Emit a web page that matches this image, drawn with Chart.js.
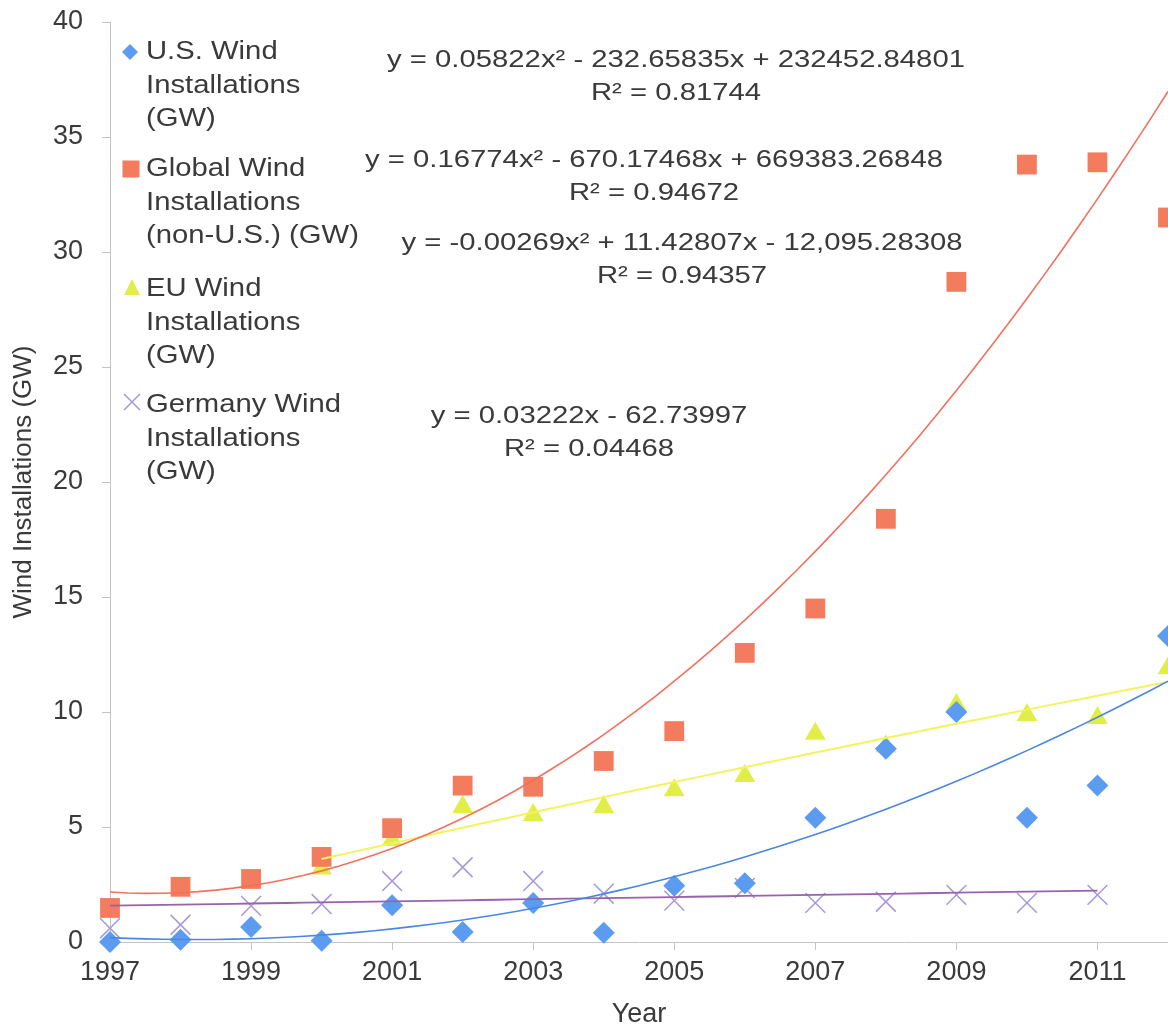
<!DOCTYPE html>
<html>
<head>
<meta charset="utf-8">
<title>Wind Installations</title>
<script src="https://cdn.jsdelivr.net/npm/chart.js@4.4.0/dist/chart.umd.min.js"></script>
<style>
  body { margin: 0; background: #fff; }
  #wrap {
    position: relative;
    width: 1168px;
    height: 1032px;
    overflow: hidden;
    font-family: "Liberation Sans", Arial, sans-serif;
    color: #3a3a3a;
  }
  #chart { position: absolute; left: 0; top: 0; }
  .legend-item {
    position: absolute;
    left: 146px;
    font-size: 25px;
    line-height: 33.5px;
    white-space: nowrap;
    transform: scaleX(1.17);
    transform-origin: left top;
  }
  .marker { position: absolute; }
  .eq {
    position: absolute;
    font-size: 24px;
    line-height: 33px;
    text-align: center;
    white-space: nowrap;
    transform: translateX(-50%) scaleX(1.22);
  }
</style>
</head>
<body>
<div id="wrap">
  <canvas id="chart" width="1168" height="1032"></canvas>

  <!-- legend (inside plot area, top left) -->
  <svg class="marker" style="left:121px;top:43px" width="18" height="18"><polygon points="9,1 17,9 9,17 1,9" fill="#5c9cf0"/></svg>
  <div class="legend-item" style="top:34px">U.S. Wind<br>Installations<br>(GW)</div>

  <svg class="marker" style="left:122px;top:160px" width="18" height="18"><rect x="0.5" y="0.5" width="17" height="17" fill="#f37c5e"/></svg>
  <div class="legend-item" style="top:151px">Global Wind<br>Installations<br>(non-U.S.) (GW)</div>

  <svg class="marker" style="left:123px;top:278px" width="18" height="18"><polygon points="9,1 17,17 1,17" fill="#e2ee48"/></svg>
  <div class="legend-item" style="top:271px">EU Wind<br>Installations<br>(GW)</div>

  <svg class="marker" style="left:122px;top:392px" width="20" height="20"><path d="M2,2 L18,18 M18,2 L2,18" stroke="#a798dc" stroke-width="1.5"/></svg>
  <div class="legend-item" style="top:387px">Germany Wind<br>Installations<br>(GW)</div>

  <!-- trendline equations -->
  <div class="eq" style="left:676px;top:42px">y = 0.05822x² - 232.65835x + 232452.84801<br>R² = 0.81744</div>
  <div class="eq" style="left:654px;top:142px">y = 0.16774x² - 670.17468x + 669383.26848<br>R² = 0.94672</div>
  <div class="eq" style="left:682px;top:225px">y = -0.00269x² + 11.42807x - 12,095.28308<br>R² = 0.94357</div>
  <div class="eq" style="left:589px;top:398px">y = 0.03222x - 62.73997<br>R² = 0.04468</div>
</div>

<script>
// ---- data ----
const years = [1997, 1998, 1999, 2000, 2001, 2002, 2003, 2004, 2005, 2006, 2007, 2008, 2009, 2010, 2011, 2012];
const usWind = [0.0, 0.1, 0.65, 0.05, 1.6, 0.43, 1.7, 0.4, 2.45, 2.55, 5.4, 8.4, 10.0, 5.4, 6.8, 13.3];
const globalWind = [1.48, 2.4, 2.74, 3.7, 4.95, 6.8, 6.75, 7.87, 9.17, 12.57, 14.5, 18.4, 28.7, 33.8, 33.9, 31.5];
const euWind = [null, null, null, 3.2, 4.43, 5.87, 5.52, 5.87, 6.6, 7.22, 9.05, 8.5, 10.3, 9.87, 9.74, 11.9];
const germanyWind = [0.6, 0.75, 1.57, 1.65, 2.65, 3.25, 2.65, 2.1, 1.8, 2.35, 1.7, 1.75, 2.05, 1.7, 2.05, null];
const xTickYears = [1997, 1999, 2001, 2003, 2005, 2007, 2009, 2011];

const FONT = '"Liberation Sans", Arial, sans-serif';
const TEXT = '#3a3a3a';

function toPoints(values) {
  return years
    .map((x, i) => ({ x, y: values[i] }))
    .filter(p => p.y !== null);
}

// least squares polynomial, x centred to keep it stable
function polyFit(points, degree) {
  const x0 = 2004;
  const n = degree + 1;
  const A = Array.from({ length: n }, () => new Array(n + 1).fill(0));
  points.forEach(p => {
    const t = p.x - x0;
    for (let i = 0; i < n; i++) {
      for (let j = 0; j < n; j++) A[i][j] += Math.pow(t, i + j);
      A[i][n] += Math.pow(t, i) * p.y;
    }
  });
  for (let i = 0; i < n; i++) {
    for (let r = 0; r < n; r++) {
      if (r === i) continue;
      const f = A[r][i] / A[i][i];
      for (let c = i; c <= n; c++) A[r][c] -= f * A[i][c];
    }
  }
  const coef = A.map((row, i) => row[n] / row[i]);
  return x => coef.reduce((s, c, i) => s + c * Math.pow(x - x0, i), 0);
}

function trend(points, degree) {
  const f = polyFit(points, degree);
  const from = points[0].x;
  const to = points[points.length - 1].x;
  const out = [];
  for (let x = from; x <= to + 1e-9; x += 0.25) out.push({ x, y: f(x) });
  return out;
}

const usPts = toPoints(usWind);
const globalPts = toPoints(globalWind);
const euPts = toPoints(euWind);
const dePts = toPoints(germanyWind);

const scatterBase = { clip: false, order: 2, showLine: false, pointBorderWidth: 0 };
const trendBase = { clip: false, order: 1, showLine: true, pointRadius: 0, fill: false, tension: 0 };

new Chart(document.getElementById('chart'), {
  type: 'scatter',
  data: {
    datasets: [
      { ...scatterBase, label: 'U.S. Wind Installations (GW)', data: usPts,
        pointStyle: 'rectRot', pointRadius: 11, backgroundColor: '#5c9cf0', borderColor: '#5c9cf0' },
      { ...scatterBase, label: 'Global Wind Installations (non-U.S.) (GW)', data: globalPts,
        pointStyle: 'rect', pointRadius: 14, backgroundColor: '#f37c5e', borderColor: '#f37c5e' },
      { ...scatterBase, label: 'EU Wind Installations (GW)', data: euPts,
        pointStyle: 'triangle', pointRadius: 12, backgroundColor: '#e2ee48', borderColor: '#e2ee48' },
      { ...scatterBase, label: 'Germany Wind Installations (GW)', data: dePts,
        pointStyle: 'crossRot', pointRadius: 14, pointBorderWidth: 1.5,
        backgroundColor: '#a798dc', borderColor: '#a798dc' },

      { ...trendBase, label: 'US trend', data: trend(usPts, 2), borderColor: '#4a86e6', borderWidth: 1.6 },
      { ...trendBase, label: 'Global trend', data: trend(globalPts, 2), borderColor: '#f2705e', borderWidth: 1.6 },
      { ...trendBase, label: 'EU trend', data: trend(euPts, 2), borderColor: '#f4f35e', borderWidth: 2 },
      { ...trendBase, label: 'Germany trend', data: trend(dePts, 1), borderColor: '#9a62ac', borderWidth: 1.8 }
    ]
  },
  options: {
    responsive: false,
    animation: false,
    devicePixelRatio: 1,
    // no room kept for marker overflow: the plot runs to the right edge and 2012 gets cut
    layout: { autoPadding: false, padding: { top: 22, right: 0, left: 0, bottom: 0 } },
    plugins: {
      legend: { display: false },
      tooltip: { enabled: false }
    },
    scales: {
      x: {
        type: 'linear',
        min: 1997,
        max: 2012,
        afterBuildTicks: scale => { scale.ticks = xTickYears.map(v => ({ value: v })); },
        afterFit: scale => {
          scale.height = 90;
          scale.paddingLeft = 0;
          scale.paddingRight = 0;
        },
        ticks: {
          callback: v => String(v),
          color: TEXT,
          font: { family: FONT, size: 27 },
          padding: 6,
          maxRotation: 0,
          autoSkip: false
        },
        grid: { display: true, drawOnChartArea: false, tickLength: 8, color: '#c4c4c4' },
        border: { display: true, color: '#c4c4c4', dash: [3, 3] },
        title: {
          display: true,
          text: 'Year',
          color: TEXT,
          font: { family: FONT, size: 27 },
          padding: { top: 0, bottom: 1 }
        }
      },
      y: {
        min: 0,
        max: 40,
        afterFit: scale => {
          scale.width = 110;
          scale.paddingTop = 0;
          scale.paddingBottom = 0;
        },
        ticks: {
          stepSize: 5,
          color: TEXT,
          font: { family: FONT, size: 27 },
          padding: 19
        },
        grid: { display: true, drawOnChartArea: false, tickLength: 8, color: '#c4c4c4' },
        border: { display: true, color: '#c4c4c4', dash: [3, 3] },
        title: {
          display: true,
          text: 'Wind Installations (GW)',
          color: TEXT,
          font: { family: FONT, size: 26 },
          padding: { top: 8, bottom: 0 }
        }
      }
    }
  }
});
</script>
</body>
</html>
